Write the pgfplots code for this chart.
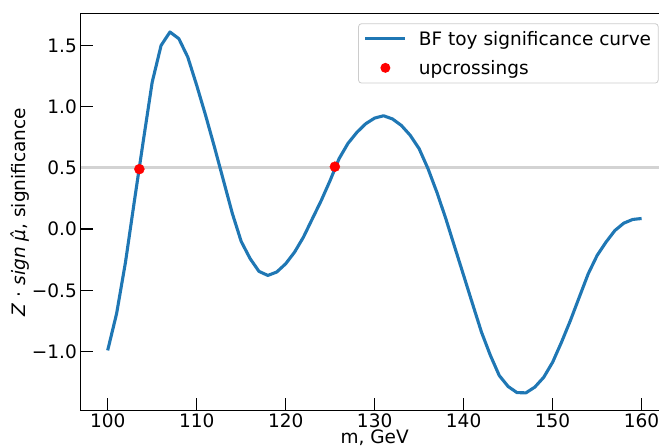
\documentclass[border=0pt]{standalone}
\usepackage{fontspec}
\setmainfont{DejaVu Sans}
\usepackage{pgfplots}
\pgfplotsset{compat=1.18}
\usepackage{pgfplotstable}

\definecolor{mplblue}{HTML}{1F77B4}
\definecolor{refgray}{HTML}{D3D3D3}

% significance of the toy scan, one value per GeV
\pgfplotstableread{
m z
100 -0.99
101 -0.69
102 -0.27
103 0.23
104 0.72
105 1.20
106 1.50
107 1.61
108 1.555
109 1.405
110 1.175
111 0.93
112 0.67
113 0.40
114 0.13
115 -0.10
116 -0.24
117 -0.345
118 -0.378
119 -0.35
120 -0.283
121 -0.188
122 -0.065
123 0.085
124 0.234
125 0.398
126 0.575
127 0.70
128 0.79
129 0.861
130 0.907
131 0.926
132 0.90
133 0.847
134 0.766
135 0.657
136 0.493
137 0.30
138 0.085
139 -0.147
140 -0.378
141 -0.61
142 -0.84
143 -1.03
144 -1.195
145 -1.285
146 -1.335
147 -1.337
148 -1.29
149 -1.21
150 -1.087
151 -0.923
152 -0.746
153 -0.555
154 -0.365
155 -0.215
156 -0.106
157 -0.011
158 0.049
159 0.079
160 0.087
}\curvedata

% points where the curve crosses the 0.5 level going up
\pgfplotstableread{
m z
103.56 0.49
125.53 0.51
}\updata

\newcommand\lblfont{\fontsize{18.5bp}{21bp}\selectfont}

\begin{document}
\begin{tikzpicture}
\begin{axis}[
  scale only axis,
  width=587.3bp, height=396bp,
  xmin=97, xmax=163, ymin=-1.477, ymax=1.757,
  axis line style={line width=1bp, black},
  tick align=inside,
  xtick pos=left, ytick pos=left,
  major tick length=12.3bp,
  every tick/.style={black, line width=1.5bp},
  xtick={100,110,120,130,140,150,160},
  xticklabels={100,110,120,130,140,150,160},
  ytick={-1,-0.5,0,0.5,1,1.5},
  yticklabels={−1.0,−0.5,0.0,0.5,1.0,1.5},
  tick label style={font=\lblfont},
  xticklabel style={inner sep=0pt, anchor=north, yshift=-3.3bp},
  yticklabel style={inner sep=0pt, anchor=east, xshift=-4bp},
  label style={font=\lblfont},
  xlabel={m, GeV},
  ylabel={\textit{Z} · \textit{sign} \textit{μ̂}, significance},
  xlabel style={at={(axis description cs:0.5,-0.0846)}, anchor=base, inner sep=0pt},
  ylabel style={at={(axis description cs:-0.1039,0.5)}, anchor=center},
  legend cell align=left,
  legend style={
    at={(rel axis cs:1,1)}, anchor=north east,
    xshift=-9.7bp, yshift=-9.3bp,
    draw=black!20, line width=0.8bp, rounded corners=3bp, fill=white,
    inner xsep=5.3bp, inner ysep=8.5bp,
    column sep=12bp, row sep=15.4bp,
    nodes={inner sep=0pt, text height=13.5bp, text depth=0bp},
    font=\lblfont,
  },
]
\addplot[refgray, line width=3bp, forget plot] coordinates {(97,0.5) (163,0.5)};
\addplot[mplblue, line width=3.1bp, line join=round,
  legend image code/.code={\draw[mplblue, line width=3.1bp] (0bp,0bp) -- (40bp,0bp);}]
  table[x=m, y=z] {\curvedata};
\addlegendentry{BF toy significance curve\hspace*{1.8bp}}
\addplot[only marks, mark=*, mark size=5bp, red, draw=none, fill=red,
  legend image code/.code={\fill[red] (20bp,0bp) circle (5bp);}]
  table[x=m, y=z] {\updata};
\addlegendentry{upcrossings}
\end{axis}
\pgfresetboundingbox
\path[use as bounding box] (-81bp,-38bp) rectangle (578bp,410bp);
\end{tikzpicture}
\end{document}
